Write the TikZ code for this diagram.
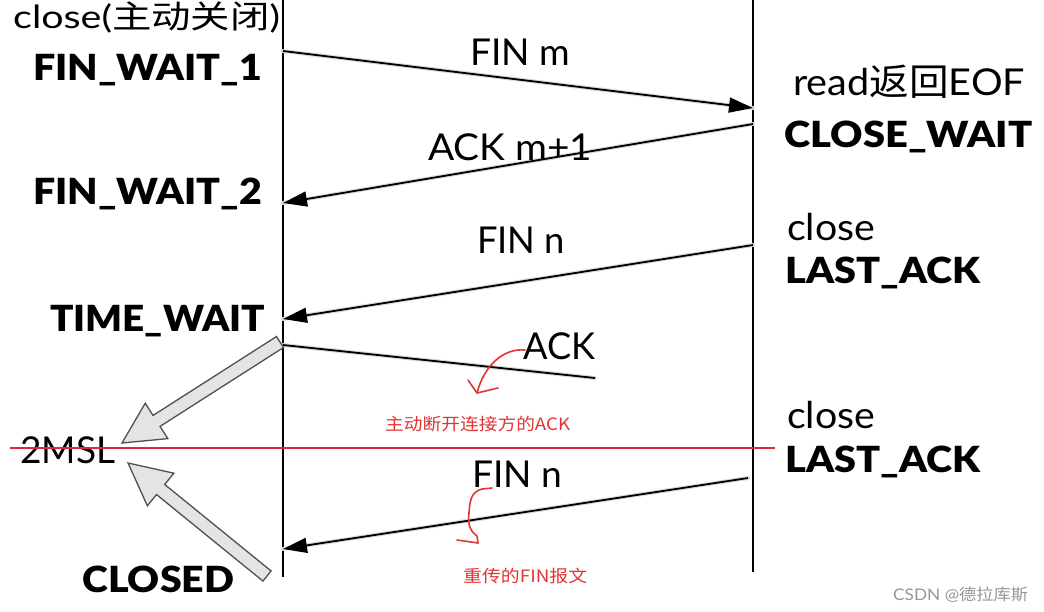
\documentclass[tikz,border=0pt]{standalone}
\usepackage{fontspec}
\setmainfont{Lato}[BoldFont={Lato Black}]
\newfontfamily\cjk{Noto Sans CJK SC}
\usetikzlibrary{arrows.meta}
\definecolor{redl}{RGB}{226,52,52}
\definecolor{redline}{RGB}{222,40,60}
\definecolor{arrfill}{RGB}{228,228,228}
\definecolor{arrdraw}{RGB}{80,80,80}
\definecolor{wm}{RGB}{150,150,150}
\newcommand\fitw[2]{\resizebox{#1pt}{\height}{#2}}
\begin{document}
\begin{tikzpicture}[x=1pt,y=-1pt,
 reg/.style={inner sep=0pt, anchor=base west, font=\fontsize{37}{40}\selectfont},
 bld/.style={inner sep=0pt, anchor=base west, font=\fontsize{36}{40}\selectfont\bfseries},
 note/.style={inner sep=0pt, anchor=base west, text=redl, font=\fontsize{17}{20}\selectfont\cjk},
 life/.style={line width=1.6pt, black},
 msg/.style={line width=1.8pt, -{Triangle[length=24pt,width=15pt]}},
 msgline/.style={line width=1.8pt},
 shadowline/.style={line width=4pt, black!15, line cap=round},
 block/.style={fill=arrfill, draw=arrdraw, line width=1.3pt, line join=miter},
 redmark/.style={redl, line width=1.6pt, line cap=round, line join=round}]

\useasboundingbox[fill=white] (0,0) rectangle (1044,611);

% lifelines
\coordinate (Ltop) at (283,0);
\coordinate (Lbot) at (283,577);
\coordinate (Rtop) at (753,0);
\coordinate (Rbot) at (753,572);
\draw[life] (Ltop) -- (Lbot);
\draw[life] (Rtop) -- (Rbot);

% message end points
\coordinate (a1) at (283,51);  \coordinate (b1) at (753,108);
\coordinate (b2) at (753,124); \coordinate (a2) at (283,203);
\coordinate (b3) at (753,245); \coordinate (a3) at (283,319);
\coordinate (a4) at (283,345); \coordinate (e4) at (595,378);
\coordinate (b5) at (748,478); \coordinate (a5) at (283,549);

% shadows
\begin{scope}[shift={(0,5)}]
\draw[shadowline] (a1) -- (b1);
\draw[shadowline] (b2) -- (a2);
\draw[shadowline] (b3) -- (a3);
\draw[shadowline] (a4) -- (e4);
\draw[shadowline] (b5) -- (a5);
\end{scope}

% messages
\draw[msg] (a1) -- (b1);
\draw[msg] (b2) -- (a2);
\draw[msg] (b3) -- (a3);
\draw[msgline] (a4) -- (e4);
\draw[msg] (b5) -- (a5);

% left labels
\node[reg, font=\fontsize{32}{36}\selectfont] (tclose) at (13,28) {\fitw{267}{close({\cjk 主动关闭})}};
\node[bld] (fw1) at (33,80) {\fitw{229}{FIN\_WAIT\_1}};
\node[bld] (fw2) at (33,204) {\fitw{229}{FIN\_WAIT\_2}};
\node[bld] (tw) at (50,331) {\fitw{215}{TIME\_WAIT}};
\node[reg] (msl) at (20,463) {\fitw{95}{2MSL}};
\node[bld] (cld) at (82,592) {\fitw{152}{CLOSED}};

% message labels
\node[reg] (lfinm) at (470,65) {\fitw{100}{FIN m}};
\node[reg] (lackm) at (428,160) {\fitw{164}{ACK m+1}};
\node[reg] (lfinn) at (477,253) {\fitw{88}{FIN n}};
\node[reg] (lack) at (523,359) {\fitw{72}{ACK}};
\node[reg] (lfinn2) at (472,487) {\fitw{90}{FIN n}};

% red notes
\node[note] (n1) at (385,430) {\fitw{185}{主动断开连接方的ACK}};
\node[note] (n2) at (463,582) {\fitw{124}{重传的FIN报文}};

% right labels
\node[reg] (rread) at (793,95) {\fitw{232}{read{\cjk 返回}EOF}};
\node[bld] (rcw) at (784,147) {\fitw{248}{CLOSE\_WAIT}};
\node[reg] (rc1) at (787,240) {\fitw{88}{close}};
\node[bld] (rla1) at (785,283) {\fitw{195}{LAST\_ACK}};
\node[reg] (rc2) at (787,428) {\fitw{88}{close}};
\node[bld] (rla2) at (785,472) {\fitw{195}{LAST\_ACK}};

% red horizontal line
\coordinate (r1) at (10,448);
\coordinate (r2) at (775,448);
\draw[redline, line width=1.5pt] (r1) -- (r2);

% block arrows
\draw[block] (276.5,336.5) -- (153.05,415.43) -- (145.24,403.21) -- (122,443)
  -- (167.86,438.61) -- (160.05,426.39) -- (283.5,347.5) -- cycle;
\draw[block] (271.10,570.96) -- (164.70,484.46) -- (173.85,473.20) -- (128,463)
  -- (147.35,505.80) -- (156.50,494.54) -- (262.90,581.04) -- cycle;

% red hand-drawn marks
\coordinate (m1s) at (525,350);
\coordinate (m1t) at (477,393);
\draw[redmark] (m1s) .. controls (503,348) and (484,366) .. (m1t);
\draw[redmark] (468,380) -- (m1t) -- (498,388);
\coordinate (m2s) at (492,488);
\coordinate (m2t) at (478,543);
\draw[redmark] (m2s) -- (482,489) .. controls (471,492) and (470,500) .. (469,513)
  .. controls (467,528) and (473,533) .. (477,536) -- (m2t);
\draw[redmark] (457,540) -- (m2t);

% watermark
\node[inner sep=0pt, anchor=base west, text=wm, font=\fontsize{16}{18}\selectfont] (wmk) at (893,600)
  {\fitw{135}{CSDN @{\cjk 德拉库斯}}};
\end{tikzpicture}
\end{document}
